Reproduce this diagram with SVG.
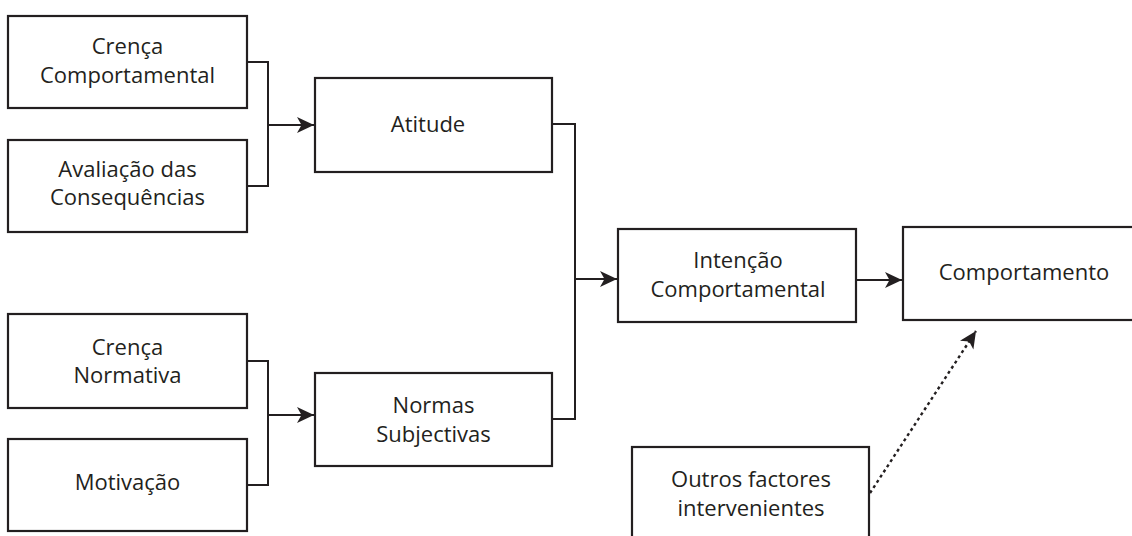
<svg xmlns="http://www.w3.org/2000/svg" width="1132" height="536" viewBox="0 0 1132 536">
  <style>
    .box { fill: #ffffff; stroke: #231f20; stroke-width: 2.2; }
    .lbl { font-family: "Open Sans", "Liberation Sans", sans-serif; font-size: 22px; fill: #231f20; text-anchor: middle; }
    .wire { fill: none; stroke: #231f20; stroke-width: 2; }
    .dotted { fill: none; stroke: #231f20; stroke-width: 2.4; stroke-dasharray: 3 3.2; }
  </style>
  <defs>
    <marker id="head" markerUnits="userSpaceOnUse" markerWidth="20" markerHeight="18" refX="17" refY="8" orient="auto">
      <path d="M0,0 L17,8 L0,16 L4.5,8 z" fill="#231f20"/>
    </marker>
  </defs>
  <rect width="1132" height="536" fill="#ffffff"/>

  <g id="crenca-comportamental">
    <rect class="box" x="8" y="16" width="239" height="92"/>
    <text class="lbl" x="127.5" y="54">Crença</text>
    <text class="lbl" x="127.5" y="83">Comportamental</text>
  </g>
  <g id="avaliacao-consequencias">
    <rect class="box" x="8" y="140" width="239" height="92"/>
    <text class="lbl" x="127.5" y="177">Avaliação das</text>
    <text class="lbl" x="127.5" y="205">Consequências</text>
  </g>
  <g id="crenca-normativa">
    <rect class="box" x="8" y="314" width="239" height="94"/>
    <text class="lbl" x="127.5" y="355">Crença</text>
    <text class="lbl" x="127.5" y="383">Normativa</text>
  </g>
  <g id="motivacao">
    <rect class="box" x="8" y="439" width="239" height="92"/>
    <text class="lbl" x="127.5" y="490">Motivação</text>
  </g>
  <g id="atitude">
    <rect class="box" x="315" y="78" width="237" height="94"/>
    <text class="lbl" x="428" y="132">Atitude</text>
  </g>
  <g id="normas-subjectivas">
    <rect class="box" x="315" y="373" width="237" height="93"/>
    <text class="lbl" x="433.5" y="413">Normas</text>
    <text class="lbl" x="433.5" y="442">Subjectivas</text>
  </g>
  <g id="intencao-comportamental">
    <rect class="box" x="618" y="229" width="238" height="93"/>
    <text class="lbl" x="738" y="268">Intenção</text>
    <text class="lbl" x="738" y="297">Comportamental</text>
  </g>
  <g id="comportamento">
    <rect class="box" x="903" y="227" width="240" height="93"/>
    <text class="lbl" x="1024" y="280">Comportamento</text>
  </g>
  <g id="outros-factores">
    <rect class="box" x="632" y="447" width="237" height="100"/>
    <text class="lbl" x="751" y="487">Outros factores</text>
    <text class="lbl" x="751" y="516">intervenientes</text>
  </g>

  <g id="connectors">
    <path class="wire" d="M247,62 H268 V186 H247"/>
    <path class="wire" d="M268,125 H314" marker-end="url(#head)"/>
    <path class="wire" d="M247,361 H268 V485 H247"/>
    <path class="wire" d="M268,415 H314" marker-end="url(#head)"/>
    <path class="wire" d="M552,124 H575 V419 H552"/>
    <path class="wire" d="M575,279 H617" marker-end="url(#head)"/>
    <path class="wire" d="M856,280 H902" marker-end="url(#head)"/>
    <path class="dotted" d="M870,493 L976,331" marker-end="url(#head)"/>
  </g>
</svg>
